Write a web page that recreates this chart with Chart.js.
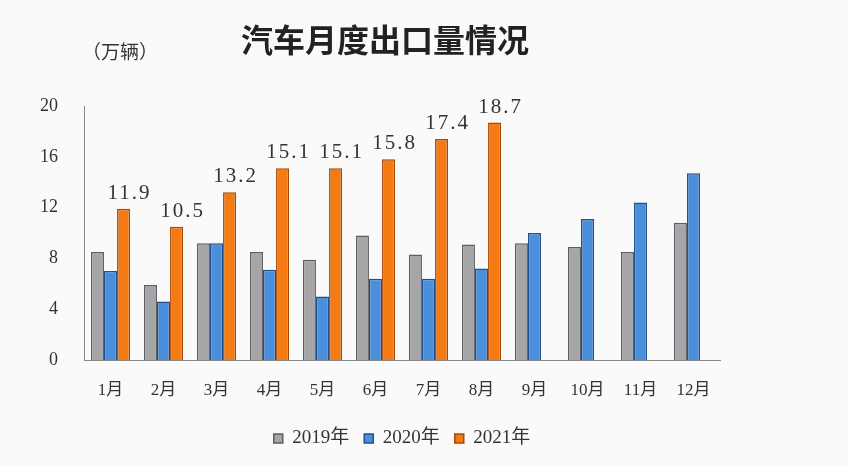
<!DOCTYPE html>
<html>
<head>
<meta charset="utf-8">
<script src="https://cdn.jsdelivr.net/npm/chart.js@4/dist/chart.umd.min.js"></script>
<style>
    html, body { margin: 0; padding: 0; background: #fafafa; }
    #wrap { width: 848px; height: 466px; position: relative; }
</style>
</head>
<body>
<div id="wrap"><canvas id="chart" width="848" height="466"></canvas></div>
<script>
// Data (万辆)
const months = ['1月', '2月', '3月', '4月', '5月', '6月', '7月', '8月', '9月', '10月', '11月', '12月'];
const seriesNames = ['2019年', '2020年', '2021年'];
const values2019 = [8.5, 5.9, 9.2, 8.5, 7.9, 9.8, 8.3, 9.1, 9.2, 8.9, 8.5, 10.8];
const values2020 = [7.0, 4.6, 9.2, 7.1, 5.0, 6.4, 6.4, 7.2, 10.0, 11.1, 12.4, 14.7];
const values2021 = [11.9, 10.5, 13.2, 15.1, 15.1, 15.8, 17.4, 18.7, null, null, null, null];
const yTicks = [0, 4, 8, 12, 16, 20];

const serif = "'Liberation Serif', 'Noto Sans CJK SC', serif";
const cjk = "'Noto Sans CJK SC', sans-serif";

// Title, unit and value labels over the 2021 bars
const extras = {
    id: 'extras',
    afterDatasetsDraw(chart) {
        const ctx = chart.ctx;
        ctx.save();
        ctx.fillStyle = '#222';
        ctx.font = "bold 32px " + cjk;
        ctx.textAlign = 'center';
        ctx.textBaseline = 'middle';
        ctx.fillText('汽车月度出口量情况', 385, 40);

        ctx.font = "19px " + cjk;
        ctx.fillStyle = '#333';
        ctx.textAlign = 'left';
        ctx.fillText('（万辆）', 82, 52);

        const meta = chart.getDatasetMeta(2);
        ctx.font = "21px " + serif;
        ctx.letterSpacing = '2px';
        ctx.fillStyle = '#333';
        ctx.textAlign = 'center';
        ctx.textBaseline = 'bottom';
        meta.data.forEach((bar, i) => {
            const v = values2021[i];
            if (v == null) return;
            ctx.fillText(v.toFixed(1), bar.x + 6, bar.y - 5);
        });
        ctx.restore();
    }
};

new Chart(document.getElementById('chart'), {
    type: 'bar',
    data: {
        labels: months,
        datasets: [
            {
                label: seriesNames[0],
                data: values2019,
                backgroundColor: '#a6a5a8',
                borderColor: '#5e5e62',
                borderWidth: 1.5
            },
            {
                label: seriesNames[1],
                data: values2020,
                backgroundColor: '#4a8fdc',
                borderColor: '#254f8a',
                borderWidth: 1.5
            },
            {
                label: seriesNames[2],
                data: values2021,
                backgroundColor: '#f47a14',
                borderColor: '#a8490a',
                borderWidth: 1.5
            }
        ]
    },
    options: {
        responsive: false,
        animation: false,
        layout: {
            padding: { top: 106, right: 128, bottom: 8, left: 0 }
        },
        datasets: {
            bar: {
                barPercentage: 1,
                categoryPercentage: 0.74
            }
        },
        plugins: {
            legend: {
                position: 'bottom',
                fullSize: false,
                labels: {
                    boxWidth: 9,
                    boxHeight: 9,
                    padding: 15,
                    color: '#333',
                    font: { family: serif, size: 19 }
                }
            },
            tooltip: { enabled: false }
        },
        scales: {
            x: {
                grid: { display: false, drawTicks: false },
                border: { display: true, color: '#888', width: 1 },
                ticks: {
                    color: '#333',
                    padding: 20,
                    font: { family: serif, size: 17 }
                },
                afterFit(axis) { axis.height = 54; }
            },
            y: {
                min: 0,
                max: 20,
                grid: { display: false, drawTicks: false },
                border: { display: true, color: '#888', width: 1 },
                afterBuildTicks(axis) {
                    axis.ticks = yTicks.map(v => ({ value: v }));
                },
                ticks: {
                    color: '#333',
                    padding: 26,
                    font: { family: serif, size: 18 }
                },
                afterFit(axis) { axis.width = 84; }
            }
        }
    },
    plugins: [extras]
});
</script>
</body>
</html>
